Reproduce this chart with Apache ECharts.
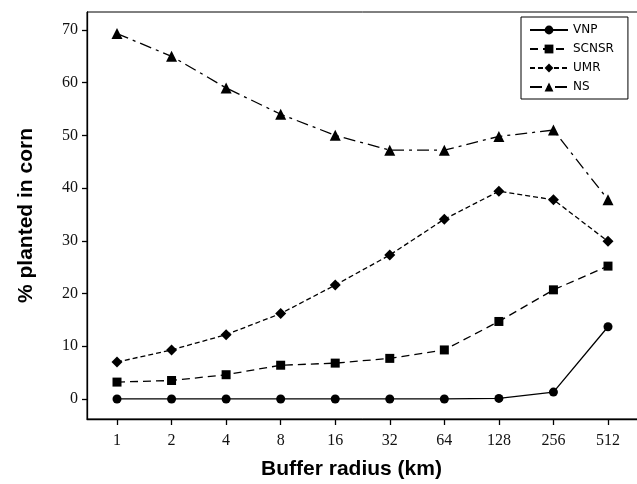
<!DOCTYPE html>
<html>
<head>
<meta charset="utf-8">
<script src="https://cdn.jsdelivr.net/npm/echarts@6/dist/echarts.min.js"></script>
<style>
  html, body { margin: 0; padding: 0; background: #fff; }
  #chart { width: 637px; height: 484px; }
</style>
</head>
<body>
<div id="chart"></div>
<script>
var radius = ['1', '2', '4', '8', '16', '32', '64', '128', '256', '512'];
var yTicks = [0, 10, 20, 30, 40, 50, 60, 70];
var vnp   = [0, 0, 0, 0, 0, 0, 0, 0.1, 1.3, 13.7];
var scnsr = [3.2, 3.5, 4.6, 6.4, 6.8, 7.7, 9.3, 14.7, 20.7, 25.2];
var umr   = [7.0, 9.3, 12.2, 16.2, 21.6, 27.3, 34.1, 39.4, 37.8, 29.9];
var ns    = [69.3, 65.0, 59.0, 54.0, 50.0, 47.2, 47.2, 49.8, 51.0, 37.8];

var idx = radius.map(function (r, i) { return i; });
var pts = function (arr) { return arr.map(function (v, i) { return [i, v]; }); };

var chart = echarts.init(document.getElementById('chart'));

var mkSeries = function (name, data, symbol, size, dash) {
  return {
    name: name,
    type: 'line',
    data: pts(data),
    symbol: symbol,
    symbolSize: size,
    itemStyle: { color: '#000' },
    lineStyle: { color: '#000', width: 1.3, type: dash },
    emphasis: { disabled: true },
    animation: false
  };
};

var option = {
  backgroundColor: '#fff',
  grid: {
    left: 87,
    right: -1,
    top: 12,
    bottom: 65,
    outerBoundsMode: 'none',
    containLabel: false,
    show: true,
    borderColor: '#000',
    borderWidth: 1
  },
  legend: {
    orient: 'vertical',
    left: 521,
    top: 17,
    padding: [7, 14, 6, 8],
    itemGap: 7,
    itemWidth: 38,
    itemHeight: 11,
    borderColor: '#000',
    borderWidth: 1,
    textStyle: { fontFamily: 'DejaVu Sans', fontSize: 12, color: '#000' },
    data: ['VNP', 'SCNSR', 'UMR', 'NS']
  },
  xAxis: {
    type: 'value',
    min: -0.55,
    max: 9.55,
    name: 'Buffer radius (km)',
    nameLocation: 'middle',
    nameGap: 40,
    nameTextStyle: { fontFamily: 'Liberation Sans', fontWeight: 'bold', fontSize: 21, color: '#000', padding: [0, 22, 0, 0] },
    axisLine: { onZero: false, lineStyle: { color: '#000', width: 1.3 } },
    axisTick: { customValues: idx, length: 6, lineStyle: { color: '#000', width: 1.3 } },
    axisLabel: {
      customValues: idx,
      margin: 14,
      fontFamily: 'Liberation Serif',
      fontSize: 16,
      color: '#111',
      formatter: function (v) { return radius[Math.round(v)]; }
    },
    splitLine: { show: false }
  },
  yAxis: {
    type: 'value',
    min: -3.8,
    max: 73.4,
    name: '% planted in corn',
    nameLocation: 'middle',
    nameGap: 50,
    nameTextStyle: { fontFamily: 'Liberation Sans', fontWeight: 'bold', fontSize: 21, color: '#000' },
    axisLine: { show: true, onZero: false, lineStyle: { color: '#000', width: 1.3 } },
    axisTick: { show: true, customValues: yTicks, length: 5, lineStyle: { color: '#000', width: 1.3 } },
    axisLabel: {
      customValues: yTicks,
      margin: 9,
      fontFamily: 'Liberation Serif',
      fontSize: 16,
      color: '#111'
    },
    splitLine: { show: false }
  },
  series: [
    mkSeries('VNP', vnp, 'circle', 9, 'solid'),
    mkSeries('SCNSR', scnsr, 'rect', 9, [8, 5]),
    mkSeries('UMR', umr, 'diamond', 11, [5, 3]),
    mkSeries('NS', ns, 'triangle', 11, [12, 5, 3, 5])
  ]
};
chart.setOption(option);
</script>
</body>
</html>
